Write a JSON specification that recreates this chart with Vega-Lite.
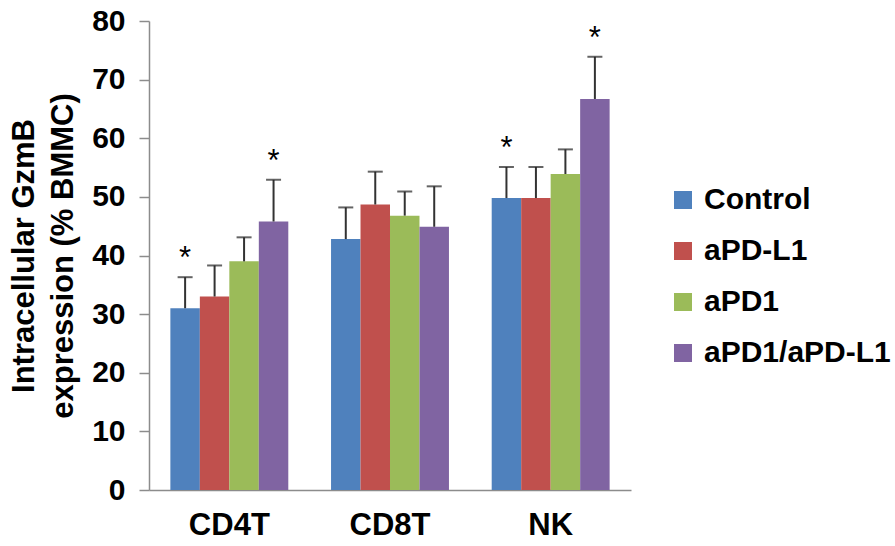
{
  "$schema": "https://vega.github.io/schema/vega-lite/v6.json",
  "autosize": {"type": "none"},
  "width": 482,
  "height": 469,
  "padding": {"left": 149, "top": 21, "right": 264, "bottom": 56},
  "background": "white",
  "config": {
    "view": {"stroke": null},
    "font": "Liberation Sans",
    "axis": {"grid": false, "domainColor": "#8c8c8c", "domainWidth": 1.5, "tickColor": "#8c8c8c", "tickWidth": 1.5, "labelColor": "#000", "titleColor": "#000", "labelFont": "Liberation Sans", "titleFont": "Liberation Sans", "labelFontWeight": "bold", "titleFontWeight": "bold"}
  },
  "data": {
    "values": [
      {"cell": "CD4T", "group": "Control", "value": 31, "err": 36.3, "star": "*"},
      {"cell": "CD4T", "group": "aPD-L1", "value": 33, "err": 38.3, "star": ""},
      {"cell": "CD4T", "group": "aPD1", "value": 39, "err": 43.1, "star": ""},
      {"cell": "CD4T", "group": "aPD1/aPD-L1", "value": 45.8, "err": 52.9, "star": "*"},
      {"cell": "CD8T", "group": "Control", "value": 42.8, "err": 48.2, "star": ""},
      {"cell": "CD8T", "group": "aPD-L1", "value": 48.7, "err": 54.3, "star": ""},
      {"cell": "CD8T", "group": "aPD1", "value": 46.8, "err": 50.9, "star": ""},
      {"cell": "CD8T", "group": "aPD1/aPD-L1", "value": 44.9, "err": 51.8, "star": ""},
      {"cell": "NK", "group": "Control", "value": 49.8, "err": 55.1, "star": "*"},
      {"cell": "NK", "group": "aPD-L1", "value": 49.8, "err": 55.1, "star": ""},
      {"cell": "NK", "group": "aPD1", "value": 53.9, "err": 58.1, "star": ""},
      {"cell": "NK", "group": "aPD1/aPD-L1", "value": 66.7, "err": 73.9, "star": "*"}
    ]
  },
  "encoding": {
    "x": {
      "field": "cell", "type": "nominal", "sort": ["CD4T", "CD8T", "NK"],
      "scale": {"paddingInner": 0.266, "paddingOuter": 0.133},
      "axis": {"title": null, "labelAngle": 0, "tickSize": 0, "labelFontSize": 31, "labelPadding": 20}
    },
    "xOffset": {
      "field": "group", "type": "nominal", "sort": ["Control", "aPD-L1", "aPD1", "aPD1/aPD-L1"],
      "scale": {"paddingInner": 0, "paddingOuter": 0}
    }
  },
  "layer": [
    {
      "mark": {"type": "bar"},
      "encoding": {
        "y": {
          "field": "value", "type": "quantitative",
          "scale": {"domain": [0, 80], "nice": false},
          "axis": {"values": [0, 10, 20, 30, 40, 50, 60, 70, 80], "tickSize": 10, "labelFontSize": 30, "labelPadding": 14, "title": ["Intracellular GzmB", "expression (% BMMC)"], "titleFontSize": 31, "titleLineHeight": 39, "titlePadding": 12}
        },
        "color": {
          "field": "group", "type": "nominal",
          "sort": ["Control", "aPD-L1", "aPD1", "aPD1/aPD-L1"],
          "scale": {"domain": ["Control", "aPD-L1", "aPD1", "aPD1/aPD-L1"], "range": ["#4F81BD", "#C0504D", "#9BBB59", "#8064A2"]},
          "legend": {
            "title": null, "orient": "none", "legendX": 519, "legendY": 164,
            "symbolType": "square", "symbolSize": 324, "symbolStrokeWidth": 0,
            "labelFontSize": 30, "labelFontWeight": "bold", "labelFont": "Liberation Sans", "labelColor": "#000",
            "labelOffset": 6, "rowPadding": 21, "labelLimit": 0
          }
        }
      }
    },
    {
      "mark": {"type": "rule", "color": "#333", "strokeWidth": 2},
      "encoding": {
        "y": {"field": "value", "type": "quantitative"},
        "y2": {"field": "err"}
      }
    },
    {
      "mark": {"type": "tick", "color": "#222", "thickness": 2, "size": 15},
      "encoding": {
        "y": {"field": "err", "type": "quantitative"}
      }
    },
    {
      "transform": [{"filter": "datum.star === '*'"}],
      "mark": {"type": "text", "fontSize": 31, "font": "Liberation Sans", "baseline": "alphabetic", "dy": -9, "color": "#000"},
      "encoding": {
        "y": {"field": "err", "type": "quantitative"},
        "text": {"field": "star"}
      }
    }
  ]
}
